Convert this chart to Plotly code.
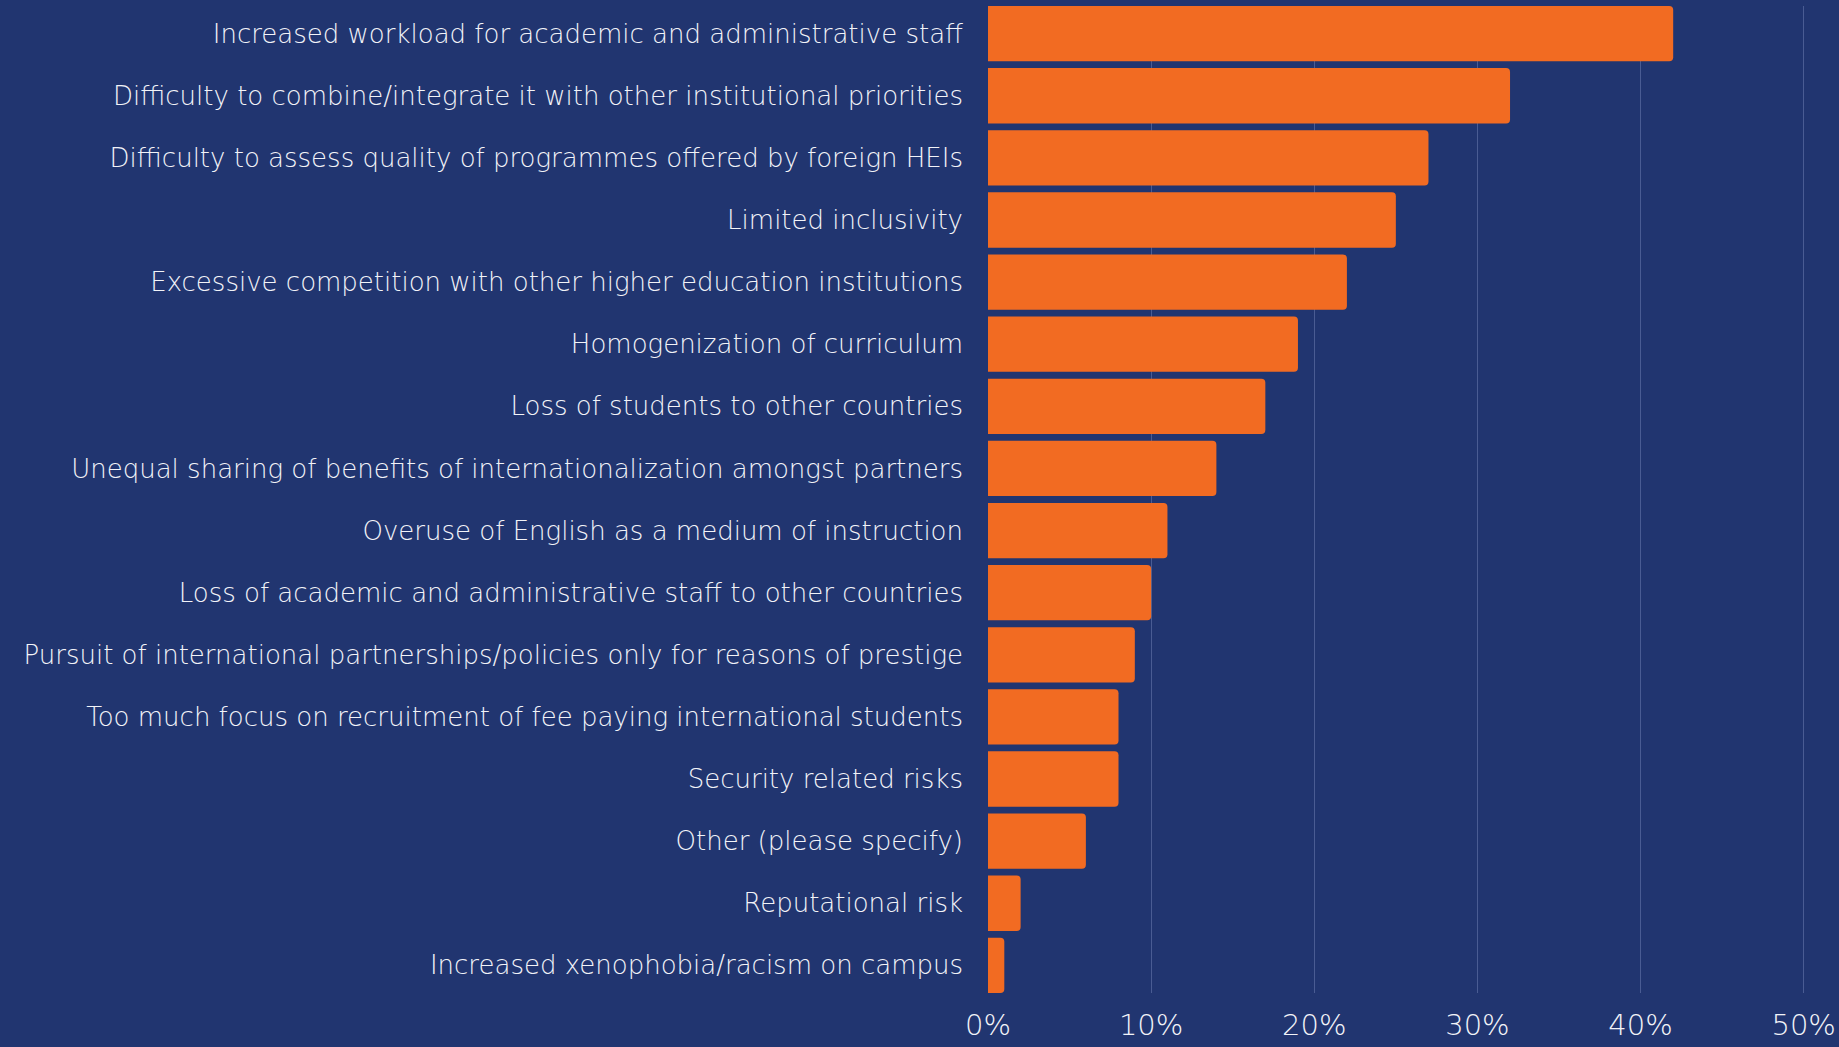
import plotly.graph_objects as go

categories = [
    "Increased workload for academic and administrative staff",
    "Difficulty to combine/integrate it with other institutional priorities",
    "Difficulty to assess quality of programmes offered by foreign HEIs",
    "Limited inclusivity",
    "Excessive competition with other higher education institutions",
    "Homogenization of curriculum",
    "Loss of students to other countries",
    "Unequal sharing of benefits of internationalization amongst partners",
    "Overuse of English as a medium of instruction",
    "Loss of academic and administrative staff to other countries",
    "Pursuit of international partnerships/policies only for reasons of prestige",
    "Too much focus on recruitment of fee paying international students",
    "Security related risks",
    "Other (please specify)",
    "Reputational risk",
    "Increased xenophobia/racism on campus",
]
values = [42, 32, 27, 25, 22, 19, 17, 14, 11, 10, 9, 8, 8, 6, 2, 1]
tick_vals = [0, 10, 20, 30, 40, 50]
tick_text = ["0%", "10%", "20%", "30%", "40%", "50%"]

BG = "#213570"
BAR = "#F26B22"
TXT = "#F2F3F8"
GRID = "#4A5C93"
gap = 0.11

fig = go.Figure(go.Bar(
    x=values, y=categories, orientation="h",
    marker=dict(color=BAR, line=dict(width=0)),
    hoverinfo="x+y",
))
fig.update_layout(
    width=1839, height=1047,
    paper_bgcolor=BG, plot_bgcolor=BG,
    margin=dict(l=988, r=34, t=6, b=54),
    bargap=gap, barcornerradius=4,
    showlegend=False,
    font=dict(family="DejaVu Sans", color=TXT, weight=200),
)
fig.update_xaxes(
    range=[0, 50.08], tickvals=tick_vals, ticktext=tick_text,
    showgrid=True, gridcolor=GRID, gridwidth=1,
    zeroline=False, showline=False, automargin=False,
    tickfont=dict(size=29, color=TXT, family="DejaVu Sans", weight=200),
    ticks="", ticklabelstandoff=12,
)
fig.update_yaxes(
    type="category", categoryorder="array", categoryarray=categories,
    range=[len(categories) - 0.5 - gap / 2, -0.5 + gap / 2],
    showgrid=False, zeroline=False, showline=False, ticks="", automargin=False,
    tickfont=dict(size=26, color=TXT, family="DejaVu Sans", weight=200),
    ticklabelstandoff=24,
)
fig.write_html("out.html")
